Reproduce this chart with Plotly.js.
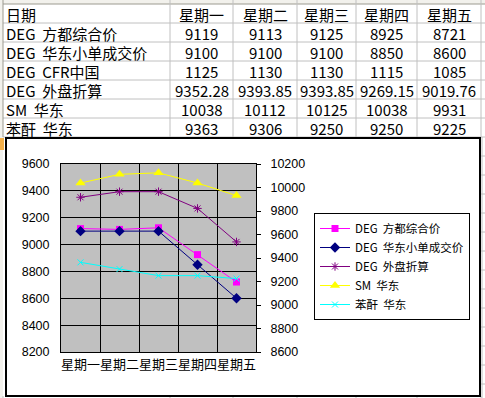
<!DOCTYPE html>
<html>
<head>
<meta charset="utf-8">
<script src="https://cdn.plot.ly/plotly-3.0.1.min.js"></script>
<style>html,body{margin:0;padding:0;background:#fff;}#chart{width:485px;height:398px;}</style>
</head>
<body>
<div id="chart"></div>
<script>
// ---- data ----
const headerLabel = '日期';
const categories = ['星期一', '星期二', '星期三', '星期四', '星期五'];
const rowNames = ['DEG 方都综合价', 'DEG 华东小单成交价', 'DEG CFR中国', 'DEG 外盘折算', 'SM 华东', '苯酐 华东'];
const fangduPrice = [9119, 9113, 9125, 8925, 8721];
const huadongSmallPrice = [9100, 9100, 9100, 8850, 8600];
const cfrChina = [1125, 1130, 1130, 1115, 1085];
const waipanPrice = [9352.28, 9393.85, 9393.85, 9269.15, 9019.76];
const smHuadong = [10038, 10112, 10125, 10038, 9931];
const benganHuadong = [9363, 9306, 9250, 9250, 9225];
const tableRows = [fangduPrice, huadongSmallPrice, cfrChina, waipanPrice, smHuadong, benganHuadong];
const leftTicks = [8200, 8400, 8600, 8800, 9000, 9200, 9400, 9600];
const rightTicks = [8600, 8800, 9000, 9200, 9400, 9600, 9800, 10000, 10200];

// wider gap like the original's half-width space
const wide = s => s.replace(/ /g, ' \u00A0');

// ---- geometry helpers (pixels -> paper) ----
const W = 485, H = 398;
const px = x => x / W;
const py = y => 1 - y / H;

const colEdges = [3, 170, 233, 297, 356, 417, 481];
const rowEdges = [4, 23, 42, 61, 80, 99, 118, 137];
const gridGray = '#C0C0C0';
const tableFont = {family: 'Noto Sans CJK SC, sans-serif', size: 15, color: '#000'};

const shapes = [];
const annotations = [];

// top header strip and left strip
shapes.push({type: 'rect', xref: 'paper', yref: 'paper', x0: 0, x1: 1, y0: py(0), y1: py(4), fillcolor: '#F2F1EC', line: {width: 0}, layer: 'below'});
shapes.push({type: 'rect', xref: 'paper', yref: 'paper', x0: 0, x1: px(3), y0: py(4), y1: 0, fillcolor: '#F2F1EC', line: {width: 0}, layer: 'below'});
shapes.push({type: 'rect', xref: 'paper', yref: 'paper', x0: 0, x1: px(4), y0: py(138), y1: py(150), fillcolor: '#F4B04A', line: {width: 0}, layer: 'below'});

// spreadsheet grid (table region)
rowEdges.forEach((y, i) => {
  shapes.push({type: 'line', xref: 'paper', yref: 'paper', x0: px(3), x1: 1, y0: py(y), y1: py(y),
    line: {color: i === 0 ? '#9C9A90' : gridGray, width: 1}, layer: 'below'});
});
colEdges.forEach(x => {
  shapes.push({type: 'line', xref: 'paper', yref: 'paper', x0: px(x), x1: px(x), y0: py(0), y1: py(137),
    line: {color: x === 3 ? '#9C9A90' : gridGray, width: 1}, layer: 'below'});
  shapes.push({type: 'line', xref: 'paper', yref: 'paper', x0: px(x), x1: px(x), y0: py(396), y1: 0,
    line: {color: gridGray, width: 1}, layer: 'below'});
});
// grid beyond the chart on the right
shapes.push({type: 'line', xref: 'paper', yref: 'paper', x0: px(482), x1: px(482), y0: py(137), y1: 0, line: {color: gridGray, width: 1}, layer: 'below'});
for (let y = 156; y < H; y += 19) {
  shapes.push({type: 'line', xref: 'paper', yref: 'paper', x0: px(481), x1: 1, y0: py(y), y1: py(y), line: {color: gridGray, width: 1}, layer: 'below'});
}

// table text
const colCenter = i => (colEdges[i + 1] + colEdges[i + 2]) / 2;
const rowTextY = r => rowEdges[r + 1] - 8.5;
const ann = (x, y, text, anchor) => ({xref: 'paper', yref: 'paper', x: px(x), y: py(y), xanchor: anchor, yanchor: 'middle',
  text: text, showarrow: false, font: tableFont, borderpad: 0});
annotations.push(ann(5, rowTextY(0), headerLabel, 'left'));
categories.forEach((c, i) => annotations.push(ann(colCenter(i), rowTextY(0), c, 'center')));
rowNames.forEach((name, r) => {
  annotations.push(ann(5, rowTextY(r + 1), wide(name), 'left'));
  tableRows[r].forEach((v, i) => annotations.push(ann(colCenter(i), rowTextY(r + 1), String(v), 'center')));
});

// chart frame
shapes.push({type: 'rect', xref: 'paper', yref: 'paper', x0: px(6), x1: px(480), y0: py(138), y1: py(396), line: {color: '#000', width: 2}, fillcolor: 'rgba(0,0,0,0)'});

// ---- traces ----
const traces = [
  {name: wide('DEG 方都综合价'), x: categories, y: fangduPrice, yaxis: 'y', type: 'scatter', mode: 'lines+markers',
   line: {color: '#FF00FF', width: 1}, marker: {symbol: 'square', size: 7, color: '#FF00FF'}},
  {name: wide('DEG 华东小单成交价'), x: categories, y: huadongSmallPrice, yaxis: 'y', type: 'scatter', mode: 'lines+markers',
   line: {color: '#000080', width: 1}, marker: {symbol: 'diamond', size: 8, color: '#000080'}},
  {name: wide('DEG 外盘折算'), x: categories, y: waipanPrice, yaxis: 'y', type: 'scatter', mode: 'lines+markers',
   line: {color: '#800080', width: 1}, marker: {symbol: 'asterisk-open', size: 7, color: '#800080', line: {color: '#800080', width: 1}}},
  {name: wide('SM 华东'), x: categories, y: smHuadong, yaxis: 'y2', type: 'scatter', mode: 'lines+markers',
   line: {color: '#FFFF00', width: 1}, marker: {symbol: 'triangle-up', size: 9, color: '#FFFF00'}},
  {name: wide('苯酐 华东'), x: categories, y: benganHuadong, yaxis: 'y2', type: 'scatter', mode: 'lines+markers',
   line: {color: '#00FFFF', width: 1}, marker: {symbol: 'x-thin-open', size: 6, color: '#00FFFF', line: {color: '#00FFFF', width: 1}}}
];

const numFont = {family: 'Liberation Sans, Arial, sans-serif', size: 12.5, color: '#000'};
const layout = {
  width: W, height: H,
  margin: {l: 0, r: 0, t: 0, b: 0},
  paper_bgcolor: '#FFFFFF',
  plot_bgcolor: '#C0C0C0',
  showlegend: true,
  legend: {
    x: px(314), y: py(213), xanchor: 'left', yanchor: 'top',
    bgcolor: '#FFFFFF', bordercolor: '#000', borderwidth: 1,
    font: {family: 'Noto Sans CJK SC, sans-serif', size: 11.5, color: '#000'},
    itemwidth: 30, tracegroupgap: 0
  },
  xaxis: {
    domain: [px(61), px(256)],
    type: 'category', range: [-0.5, 4.5], tickson: 'boundaries',
    showgrid: true, gridcolor: '#000', gridwidth: 1,
    showline: true, linecolor: '#000', linewidth: 1, mirror: true,
    ticks: 'outside', ticklen: 12, tickcolor: 'rgba(0,0,0,0)', tickangle: 0,
    tickfont: {family: 'Noto Sans CJK SC, sans-serif', size: 13, color: '#000'},
    zeroline: false, automargin: false, fixedrange: true
  },
  yaxis: {
    domain: [py(352), py(164)],
    range: [8200, 9600], tickvals: leftTicks, ticktext: leftTicks.map(String),
    showgrid: true, gridcolor: '#000', gridwidth: 1,
    showline: true, linecolor: '#000', linewidth: 1, mirror: true,
    ticks: 'outside', ticklen: 8, tickcolor: 'rgba(0,0,0,0)',
    tickfont: numFont, zeroline: false, automargin: false, fixedrange: true
  },
  yaxis2: {
    overlaying: 'y', side: 'right', anchor: 'x',
    range: [8600, 10200], tickvals: rightTicks, ticktext: rightTicks.map(v => '\u00A0\u00A0' + v),
    showgrid: false, showline: false,
    ticks: 'outside', ticklen: 4, tickcolor: '#000', tickwidth: 1,
    tickfont: numFont, zeroline: false, automargin: false, fixedrange: true
  },
  shapes: shapes,
  annotations: annotations
};

Plotly.newPlot('chart', traces, layout, {displayModeBar: false, staticPlot: true});
</script>
</body>
</html>
